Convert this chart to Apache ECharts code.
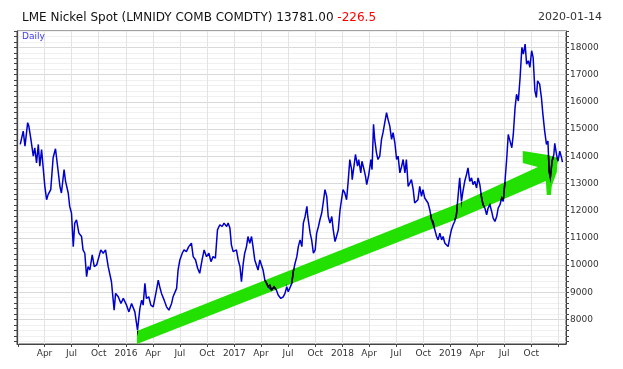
<!DOCTYPE html>
<html>
<head>
<meta charset="utf-8">
<script src="https://cdn.jsdelivr.net/npm/echarts@6/dist/echarts.min.js"></script>
<style>
html,body{margin:0;padding:0;background:#fff;}
#chart{width:623px;height:369px;}
</style>
</head>
<body>
<div id="chart"></div>
<script>
// ---- data ----
var titleMain = 'LME Nickel Spot (LMNIDY COMB COMDTY) 13781.00 ';
var titleChange = '-226.5';
var titleDate = '2020-01-14';
var periodLabel = 'Daily';

var dates = [
'2015-01-09','2015-01-19','2015-01-25','2015-02-03','2015-02-07','2015-02-14','2015-02-22','2015-02-27','2015-03-05','2015-03-11',
'2015-03-16','2015-03-22','2015-03-27','2015-04-02','2015-04-08','2015-04-13','2015-04-22','2015-04-30','2015-05-08','2015-05-15',
'2015-05-23','2015-05-28','2015-06-06','2015-06-11','2015-06-20','2015-06-25','2015-07-01','2015-07-07','2015-07-12','2015-07-18',
'2015-07-26','2015-08-04','2015-08-09','2015-08-15','2015-08-21','2015-08-26','2015-09-01','2015-09-09','2015-09-16','2015-09-24',
'2015-09-29','2015-10-08','2015-10-16','2015-10-24','2015-11-02','2015-11-13','2015-11-22','2015-11-27','2015-12-06','2015-12-15',
'2015-12-23','2016-01-03','2016-01-08','2016-01-11','2016-01-20','2016-01-31','2016-02-09','2016-02-17','2016-02-23','2016-02-28',
'2016-03-05','2016-03-10','2016-03-18','2016-03-25','2016-04-02','2016-04-13','2016-04-19','2016-04-24','2016-04-30','2016-05-09',
'2016-05-17','2016-05-25','2016-06-03','2016-06-08','2016-06-20','2016-06-25','2016-07-01','2016-07-09','2016-07-15','2016-07-23',
'2016-07-31','2016-08-09','2016-08-15','2016-08-23','2016-08-30','2016-09-06','2016-09-14','2016-09-21','2016-09-29','2016-10-07',
'2016-10-14','2016-10-21','2016-10-29','2016-11-05','2016-11-13','2016-11-21','2016-11-27','2016-12-06','2016-12-11','2016-12-17',
'2016-12-22','2016-12-28','2017-01-03','2017-01-08','2017-01-14','2017-01-20','2017-01-25','2017-01-31','2017-02-05','2017-02-11',
'2017-02-16','2017-02-22','2017-02-28','2017-03-05','2017-03-11','2017-03-17','2017-03-22','2017-03-28','2017-04-03','2017-04-08',
'2017-04-14','2017-04-20','2017-04-25','2017-05-01','2017-05-07','2017-05-15','2017-05-23','2017-05-29','2017-06-07','2017-06-15',
'2017-06-21','2017-06-27','2017-07-02','2017-07-08','2017-07-14','2017-07-19','2017-07-25','2017-07-31','2017-08-05','2017-08-11',
'2017-08-17','2017-08-22','2017-08-28','2017-09-03','2017-09-06','2017-09-14','2017-09-19','2017-09-25','2017-10-01','2017-10-06',
'2017-10-12','2017-10-17','2017-10-23','2017-10-28','2017-11-03','2017-11-09','2017-11-14','2017-11-20','2017-11-26','2017-12-01',
'2017-12-07','2017-12-12','2017-12-18','2017-12-24','2017-12-29','2018-01-03','2018-01-09','2018-01-15','2018-01-20','2018-01-26',
'2018-02-01','2018-02-03','2018-02-09','2018-02-14','2018-02-21','2018-02-25','2018-03-04','2018-03-08','2018-03-15','2018-03-20',
'2018-03-24','2018-03-31','2018-04-07','2018-04-11','2018-04-16','2018-04-20','2018-04-26','2018-05-01','2018-05-07','2018-05-13',
'2018-05-18','2018-05-24','2018-05-30','2018-06-04','2018-06-10','2018-06-16','2018-06-21','2018-06-27','2018-07-03','2018-07-08',
'2018-07-14','2018-07-20','2018-07-25','2018-07-31','2018-08-05','2018-08-11','2018-08-17','2018-08-22','2018-08-28','2018-09-02',
'2018-09-08','2018-09-13','2018-09-19','2018-09-25','2018-09-30','2018-10-06','2018-10-12','2018-10-17','2018-10-23','2018-10-29',
'2018-11-03','2018-11-09','2018-11-15','2018-11-20','2018-11-26','2018-12-02','2018-12-07','2018-12-13','2018-12-19','2018-12-24',
'2018-12-30','2019-01-04','2019-01-10','2019-01-15','2019-01-21','2019-01-27','2019-02-01','2019-02-07','2019-02-12','2019-02-18',
'2019-02-24','2019-03-01','2019-03-07','2019-03-13','2019-03-18','2019-03-24','2019-03-30','2019-04-04','2019-04-10','2019-04-16',
'2019-04-21','2019-04-27','2019-05-03','2019-05-08','2019-05-14','2019-05-20','2019-05-25','2019-05-31','2019-06-06','2019-06-11',
'2019-06-17','2019-06-23','2019-06-28','2019-07-04','2019-07-10','2019-07-15','2019-07-21','2019-07-27','2019-08-01','2019-08-07',
'2019-08-12','2019-08-18','2019-08-24','2019-08-30','2019-09-04','2019-09-10','2019-09-15','2019-09-21','2019-09-26','2019-10-02',
'2019-10-07','2019-10-13','2019-10-18','2019-10-22','2019-10-29','2019-11-04','2019-11-09','2019-11-15','2019-11-21','2019-11-26',
'2019-11-30','2019-12-04','2019-12-10','2019-12-16','2019-12-19','2019-12-25','2019-12-30','2020-01-05','2020-01-11','2020-01-14'
];
var prices = [
14432,14923,14369,15232,15107,14616,14000,14310,13756,14432,
13631,14247,13631,12893,12402,12587,12771,13941,14273,13631,
12893,12649,13509,13078,12649,12155,11911,10679,11542,11664,
11173,11048,10557,10435,9572,9941,9819,10373,9941,10004,
9941,10557,10435,10557,9941,9387,8343,8959,8834,8590,
8775,8528,8465,8280,8590,8280,7605,8406,8712,8528,
9328,8775,8834,8528,8465,9081,9450,9203,8959,8712,
8465,8343,8590,8834,9143,9819,10188,10435,10557,10494,
10679,10804,10310,10188,9882,9697,10188,10557,10310,10435,
10125,10310,10251,11295,11480,11417,11542,11417,11542,11358,
10742,10494,10435,10557,10188,9941,9387,10066,10435,10679,
11048,10804,11048,10679,10188,10125,9819,10188,10125,9819,
9450,9328,9203,9266,9081,9203,9081,8897,8775,8834,
8959,9203,9018,8959,9328,9757,10066,10310,10679,10926,
10679,11542,11786,12155,11786,11173,10926,10435,10557,11173,
11417,11664,11911,12280,12771,12524,11786,11542,11786,11295,
10864,11048,11295,12033,12402,12771,12649,12402,13018,13878,
13509,13140,13631,14063,13631,13878,13387,13816,13509,13262,
12956,13325,13878,13509,15170,14616,14125,13878,14000,14616,
14863,15232,15601,15354,15107,14616,14863,14494,13878,14000,
13387,13631,13878,13387,13878,12893,13018,13140,12771,12280,
12280,12402,12893,12524,12771,12465,12402,12280,12033,11664,
11602,11295,11048,10926,11173,10926,11048,10804,10864,10679,
11048,11295,11480,11602,11849,12587,13203,12339,12708,13078,
13325,13572,13078,13203,12956,13078,12834,13203,12956,12465,
12218,12096,11849,12096,12218,11970,11727,11602,11786,12096,
12218,12465,12339,13078,13941,14800,14553,14310,14800,15786,
16277,16030,16893,18000,17753,18122,17384,17506,17262,17875,
17631,16399,16155,16768,16646,16155,15539,14923,14432,14553,
13446,13203,13816,14063,14469,14063,13816,14185,13941,13781
];

// axis ticks / labels
var quarterTicks = ['2015-01-01','2015-04-01','2015-07-01','2015-10-01','2016-01-01','2016-04-01','2016-07-01','2016-10-01',
  '2017-01-01','2017-04-01','2017-07-01','2017-10-01','2018-01-01','2018-04-01','2018-07-01','2018-10-01',
  '2019-01-01','2019-04-01','2019-07-01','2019-10-01','2020-01-01'];
var quarterLabels = quarterTicks.slice(1, quarterTicks.length - 1);
var yLabelValues = [8000,9000,10000,11000,12000,13000,14000,15000,16000,17000,18000];
var yMinorStep = 200;

// trend arrow annotation (date, value) outline
var arrowDates = ['2016-02-07','2016-02-07','2019-02-01','2019-10-23','2019-09-02','2019-09-02','2019-11-26','2019-12-29',
  '2019-12-26','2019-12-09','2019-12-06','2019-11-22','2019-11-19','2019-02-01'];
var arrowValues = [7100,7578,12280,13603,13750,14191,14044,13934,13419,12905,12574,12574,13089,11729];

// ---- build ----
function ts(s){ var p = s.split('-'); return new Date(+p[0], +p[1]-1, +p[2]).getTime(); }
var FONT = 'DejaVu Sans';
var yMin = 7100, yMax = 18600;
var yTickValues = [];
for (var v = 7200; v <= yMax; v += yMinorStep) yTickValues.push(v);
var monthNames = {3:'Apr',6:'Jul',9:'Oct'};

var lineData = dates.map(function(d,i){ return [ts(d), prices[i]]; });
var arrowPts = arrowDates.map(function(d,i){ return [ts(d), arrowValues[i]]; });

var chart = echarts.init(document.getElementById('chart'), null, {renderer:'canvas'});
chart.setOption({
  animation: false,
  backgroundColor: '#ffffff',
  title: [{
    text: '{a|' + titleMain + '}{b|' + titleChange + '}',
    left: 22, top: 12, padding: 0,
    textStyle: { fontWeight: 'normal', rich: {
      a: {fontFamily: FONT, fontSize: 12, fontWeight: 'normal', color: '#111111'},
      b: {fontFamily: FONT, fontSize: 12, fontWeight: 'normal', color: '#ff0000'}
    }}
  },{
    text: titleDate, right: 21, top: 12, padding: 0,
    textStyle: {fontFamily: FONT, fontSize: 11, color: '#333333', fontWeight: 'normal'}
  },{
    text: periodLabel, left: 22, top: 32, padding: 0,
    textStyle: {fontFamily: FONT, fontSize: 9, color: '#3b3bff', fontWeight: 'normal'}
  }],
  grid: {left: 17, right: 57, top: 31, bottom: 25, show: true, borderColor: '#444444', borderWidth: 1, backgroundColor: 'transparent'},
  xAxis: {
    type: 'value', min: ts('2014-12-29'), max: ts('2020-01-26'), scale: true,
    axisLine: {show: true, lineStyle: {color: '#444444', width: 1}},
    axisTick: {show: true, length: 3, lineStyle: {color: '#444444'}, customValues: quarterTicks.map(ts)},
    axisLabel: {
      fontFamily: FONT, fontSize: 9, color: '#333333', margin: 5,
      customValues: quarterLabels.map(ts),
      formatter: function(val){ var d = new Date(val); var m = d.getMonth(); return m === 0 ? String(d.getFullYear()) : monthNames[m]; }
    },
    splitLine: {show: true, lineStyle: {color: '#e3e3e3', width: 1}}
  },
  yAxis: [{
    type: 'value', position: 'right', min: yMin, max: yMax,
    axisLine: {show: true, lineStyle: {color: '#444444'}},
    axisTick: {show: true, length: 3, lineStyle: {color: '#444444'}, customValues: yTickValues},
    axisLabel: {fontFamily: FONT, fontSize: 9, color: '#333333', margin: 4, customValues: yLabelValues,
      formatter: function(v){ return String(v); }},
    splitLine: {show: true, lineStyle: {color: ['#f0f0f0','#f0f0f0','#f0f0f0','#f0f0f0','#d9d9d9'], width: 1}}
  },{
    type: 'value', position: 'left', min: yMin, max: yMax,
    axisLine: {show: true, lineStyle: {color: '#444444'}},
    axisTick: {show: true, length: 3, lineStyle: {color: '#444444'}, customValues: yTickValues},
    axisLabel: {show: false},
    splitLine: {show: false}
  }],
  series: [{
    // green trend arrow, drawn under the price line
    type: 'custom', z: 1, silent: true,
    data: [arrowPts[0]],
    renderItem: function(params, api){
      var pts = arrowPts.map(function(p){ return api.coord(p); });
      return {type: 'polygon', shape: {points: pts}, style: {fill: '#22e000'}};
    }
  },{
    type: 'line', data: lineData, showSymbol: false, symbol: 'none',
    lineStyle: {color: '#0000cc', width: 1.5}, z: 2, silent: true
  },{
    // where the price line crosses the green arrow it shows dark (multiplied colours)
    type: 'custom', z: 3, silent: true,
    data: [arrowPts[0]],
    renderItem: function(params, api){
      var clip = arrowPts.map(function(p){ return api.coord(p); });
      var linePts = lineData.map(function(p){ return api.coord(p); });
      return {type: 'polyline', shape: {points: linePts},
        style: {stroke: '#000000', lineWidth: 1.5, fill: null},
        clipPath: {type: 'polygon', shape: {points: clip}}};
    }
  }]
});
</script>
</body>
</html>
